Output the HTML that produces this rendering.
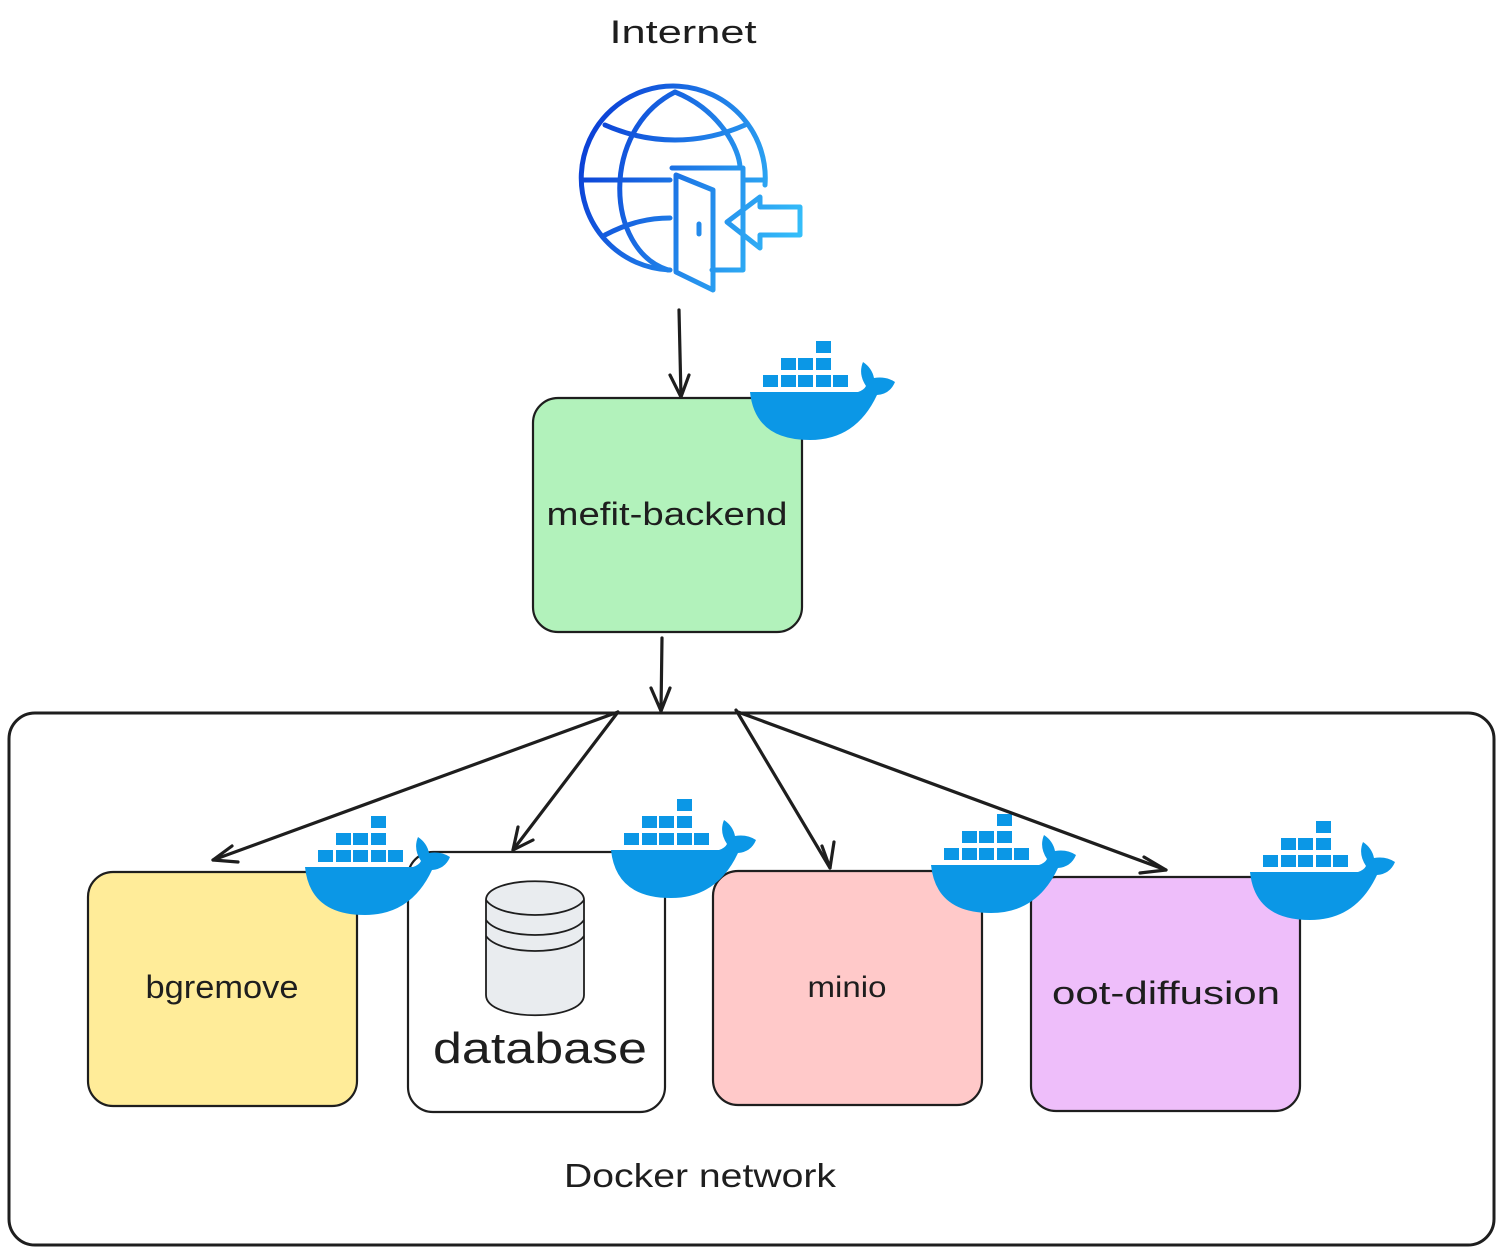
<!DOCTYPE html>
<html><head><meta charset="utf-8"><style>
html,body{margin:0;padding:0;background:#fff;}
svg{display:block;}
text{font-family:"Liberation Sans",sans-serif;fill:#1e1e1e;}
</style></head><body>
<svg width="1503" height="1254" viewBox="0 0 1503 1254" xmlns="http://www.w3.org/2000/svg">
<defs>
<linearGradient id="g" gradientUnits="userSpaceOnUse" x1="580" y1="150" x2="805" y2="230">
<stop offset="0" stop-color="#0b3fd6"/><stop offset="1" stop-color="#35c0fa"/>
</linearGradient>
<g id="whale">
<g fill="#0b97e6">
<rect x="13" y="35" width="15" height="12"/><rect x="31" y="35" width="15" height="12"/><rect x="48" y="35" width="15" height="12"/><rect x="66" y="35" width="15" height="12"/><rect x="83" y="35" width="15" height="12"/>
<rect x="31" y="18" width="15" height="12"/><rect x="48" y="18" width="15" height="12"/><rect x="66" y="18" width="15" height="12"/>
<rect x="66" y="1" width="15" height="12"/>
<path d="M0,52 H108 Q114,50 116,46 Q108,34 113,22 Q122,28 124,38 Q136,36 145,42 Q140,54 127,55 Q106,100 60,100 Q5,100 0,52 Z"/>
</g>
</g>
</defs>

<text x="683" y="43" font-size="32" text-anchor="middle" textLength="147" lengthAdjust="spacingAndGlyphs">Internet</text>

<!-- globe -->
<g fill="none" stroke="url(#g)" stroke-width="5" stroke-linejoin="round" stroke-linecap="round">
<path d="M670,270 A92,92 0 1 1 765,185"/>
<path d="M675,92 C600,130 605,250 668,270"/>
<path d="M675,92 C720,110 740,150 740,168"/>
<path d="M605,125 C650,145 700,145 745,125"/>
<path d="M583,180 H670"/>
<path d="M745,180 H765"/>
<path d="M605,235 C630,222 650,218 670,218"/>
<path d="M672,168 H743 V270 H712"/>
<path d="M676,175 L713,190 V290 L676,272 Z"/>
<line x1="699" y1="224" x2="699" y2="234"/>
<path d="M760,197 L727,222 L760,248 V235 H800 V207 H760 Z"/>
</g>

<!-- boxes -->
<g stroke="#1e1e1e" stroke-width="2.2">
<rect x="533" y="398" width="269" height="234" rx="25" fill="#b2f2bb"/>
<rect x="9" y="713" width="1485" height="532" rx="26" fill="none" stroke-width="3"/>
<rect x="88" y="872" width="269" height="234" rx="25" fill="#ffec99"/>
<rect x="408" y="852" width="257" height="260" rx="25" fill="#fff"/>
<rect x="713" y="871" width="269" height="234" rx="25" fill="#ffc9c9"/>
<rect x="1031" y="877" width="269" height="234" rx="25" fill="#eebefa"/>
</g>

<!-- cylinder -->
<g stroke="#1e1e1e" stroke-width="1.8" fill="#e9ecef">
<path d="M486,900 C486,875 584,875 584,900 V995 C584,1022 486,1022 486,995 Z"/>
<path d="M486,900 C500,920 570,920 584,900" fill="none"/>
<path d="M486,920 C500,940 570,940 584,920" fill="none"/>
<path d="M486,936 C500,956 570,956 584,936" fill="none"/>
</g>

<!-- whales -->
<use href="#whale" x="750" y="340"/>
<use href="#whale" x="305" y="815"/>
<use href="#whale" x="611" y="798"/>
<use href="#whale" x="931" y="813"/>
<use href="#whale" x="1250" y="820"/>

<!-- arrows -->
<g stroke="#1e1e1e" stroke-width="3.2" fill="none" stroke-linecap="round" stroke-linejoin="round">
<line x1="679" y1="310" x2="681" y2="397"/><path d="M670,375 L681,397 L689,375"/>
<line x1="662" y1="638" x2="661" y2="711"/><path d="M651,688 L661,711 L670,688"/>
<line x1="618" y1="712" x2="213" y2="860"/><path d="M232,846 L213,860 L238,862"/>
<line x1="618" y1="712" x2="513" y2="850"/><path d="M518,827 L513,850 L533,840"/>
<line x1="736" y1="710" x2="830" y2="868"/><path d="M822,846 L830,868 L834,842"/>
<line x1="738" y1="712" x2="1166" y2="870"/><path d="M1144,857 L1166,870 L1140,873"/>
</g>

<!-- labels -->
<text x="667" y="525" font-size="32" text-anchor="middle" textLength="241" lengthAdjust="spacingAndGlyphs">mefit-backend</text>
<text x="222" y="998" font-size="32" text-anchor="middle" textLength="153" lengthAdjust="spacingAndGlyphs">bgremove</text>
<text x="540" y="1063" font-size="44" text-anchor="middle" textLength="214" lengthAdjust="spacingAndGlyphs">database</text>
<text x="847" y="997" font-size="30" text-anchor="middle" textLength="79" lengthAdjust="spacingAndGlyphs">minio</text>
<text x="1166" y="1004" font-size="32" text-anchor="middle" textLength="228" lengthAdjust="spacingAndGlyphs">oot-diffusion</text>
<text x="700" y="1187" font-size="33" text-anchor="middle" textLength="272" lengthAdjust="spacingAndGlyphs">Docker network</text>
</svg>
</body></html>
